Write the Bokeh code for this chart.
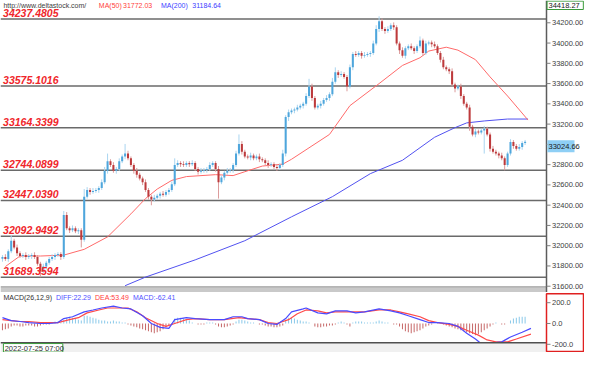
from bokeh.plotting import figure
from bokeh.models import Range1d, Label, ColumnDataSource
from bokeh.layouts import column
from bokeh.core.properties import value
from bokeh.embed import file_html
from bokeh.resources import INLINE

# ---------------- data ----------------
first_open = 31870
closes = [
    31888, 31869, 31945, 32049, 31983, 31926, 31898, 31907, 31888, 31898,
    31907, 31888, 31822, 31746, 31794, 31831, 31869, 31888, 31907, 31917,
    31888, 32304, 32172, 32153, 32172, 32143, 32153, 32058, 32484, 32550,
    32531, 32541, 32550, 32569, 32626, 32739, 32834, 32796, 32739, 32758,
    32834, 32881, 32909, 32862, 32796, 32739, 32701, 32663, 32626, 32550,
    32484, 32455, 32474, 32493, 32512, 32503, 32531, 32550, 32607, 32796,
    32815, 32805, 32796, 32815, 32805, 32815, 32758, 32730, 32739, 32748,
    32758, 32796, 32815, 32758, 32626, 32673, 32720, 32739, 32748, 32796,
    32909, 33004, 32928, 32881, 32871, 32890, 32862, 32881, 32853, 32843,
    32815, 32796, 32805, 32777, 32767, 32796, 32909, 33269, 33316, 33335,
    33344, 33363, 33382, 33401, 33477, 33571, 33458, 33363, 33382, 33401,
    33439, 33458, 33495, 33618, 33713, 33684, 33694, 33666, 33571, 33760,
    33892, 33883, 33902, 33874, 33883, 33892, 33902, 33996, 34138, 34214,
    34138, 34119, 34138, 34176, 34157, 33996, 33930, 33874, 33949, 33968,
    33949, 33921, 33968, 34025, 33902, 33996, 34006, 33987, 33968, 33902,
    33836, 33760, 33741, 33722, 33590, 33552, 33571, 33477, 33401, 33363,
    33174, 33098, 33127, 33117, 33136, 33155, 33098, 32957, 32928, 32909,
    32890, 32862, 32796, 32909, 33023, 32985, 32957, 32975, 33013, 33024.66,
]
upper_wick = [
    19, 28, 19, 57, 19, 28, 19, 19, 28, 19,
    19, 28, 19, 19, 28, 19, 19, 28, 19, 19,
    19, 38, 28, 19, 28, 19, 19, 19, 75, 28,
    19, 28, 19, 19, 28, 38, 75, 19, 28, 19,
    28, 19, 95, 28, 19, 19, 28, 19, 19, 28,
    19, 19, 28, 19, 19, 28, 19, 19, 28, 66,
    28, 19, 28, 19, 19, 28, 19, 19, 28, 19,
    19, 28, 19, 19, 28, 19, 19, 28, 19, 19,
    28, 94, 28, 19, 19, 28, 19, 19, 28, 19,
    19, 28, 19, 19, 28, 19, 38, 19, 28, 19,
    19, 28, 19, 19, 28, 76, 28, 19, 19, 28,
    19, 28, 19, 38, 47, 19, 28, 19, 19, 28,
    19, 28, 19, 19, 28, 19, 19, 28, 38, 50,
    28, 19, 28, 19, 28, 19, 19, 28, 19, 19,
    28, 19, 19, 40, 19, 28, 19, 19, 28, 19,
    19, 28, 19, 19, 28, 19, 19, 28, 19, 19,
    28, 19, 28, 19, 19, 28, 19, 19, 28, 19,
    19, 28, 19, 19, 28, 19, 19, 28, 19, 19,
]
lower_wick = [
    28, 19, 28, 19, 19, 28, 19, 19, 28, 19,
    28, 19, 19, 57, 19, 28, 19, 19, 28, 19,
    28, 19, 19, 28, 19, 19, 28, 75, 19, 19,
    28, 19, 19, 28, 19, 19, 28, 19, 19, 28,
    19, 19, 28, 19, 19, 28, 30, 19, 28, 19,
    28, 56, 19, 19, 28, 19, 19, 28, 19, 19,
    19, 28, 19, 19, 28, 19, 19, 28, 19, 19,
    28, 19, 19, 28, 161, 19, 28, 19, 19, 28,
    19, 19, 28, 19, 19, 28, 19, 19, 28, 19,
    19, 28, 19, 19, 28, 19, 19, 28, 38, 19,
    28, 19, 19, 28, 19, 19, 28, 19, 19, 28,
    19, 19, 28, 19, 19, 28, 19, 19, 47, 19,
    28, 19, 19, 28, 19, 19, 28, 19, 19, 28,
    19, 28, 19, 19, 28, 19, 38, 19, 28, 19,
    19, 28, 19, 19, 28, 19, 19, 28, 19, 19,
    28, 19, 19, 28, 19, 38, 19, 28, 19, 19,
    40, 19, 28, 19, 19, 227, 19, 28, 19, 19,
    28, 19, 52, 19, 19, 28, 19, 19, 28, 19,
]

price_levels = [34237.4805, 33575.1016, 33164.3399, 32744.0899,
                32447.0390, 32092.9492, 31689.3594]
price_level_labels = ["34237.4805", "33575.1016", "33164.3399", "32744.0899",
                      "32447.0390", "32092.9492", "31689.3594"]
price_ticks = [31600, 31800, 32000, 32200, 32400, 32600, 32800,
               33000, 33200, 33400, 33600, 33800, 34000, 34200]
last_price = 33024.66
top_price = 34418.27

ma50_idx = [1, 6, 13, 21, 28, 36, 44, 49, 53, 58, 63, 73, 79, 83, 89, 96,
            99, 106, 112, 119, 129, 137, 143, 146, 152, 156, 162, 167, 173, 180]
ma50_val = [31794, 31898, 31898, 31907, 31964, 32087, 32314, 32465, 32559,
            32645, 32682, 32701, 32692, 32730, 32786, 32805, 32853, 32985,
            33098, 33382, 33600, 33779, 33855, 33921, 33959, 33930, 33836,
            33666, 33477, 33240]
ma200_idx = [42, 49, 66, 83, 99, 113, 126, 137, 148, 155, 159, 165, 173, 180]
ma200_val = [31605, 31690, 31860, 32049, 32285, 32484, 32711, 32843, 33070,
             33165, 33212, 33231, 33250, 33250]

diff_idx = [0, 3, 6, 9, 13, 16, 19, 21, 24, 28, 31, 34, 38, 41, 44, 48, 51,
            54, 57, 59, 63, 66, 71, 76, 79, 82, 84, 88, 91, 94, 97, 99, 103,
            104, 108, 111, 114, 118, 121, 124, 129, 133, 136, 139, 143, 146,
            149, 153, 156, 159, 162, 164, 168, 171, 174, 178, 181]
diff_val = [56, 28, 19, 9, 0, 0, 9, 47, 65, 112, 130, 149, 167, 149, 140, 74,
            0, -37, -47, 37, 56, 47, 37, 37, 65, 65, 47, 37, 0, -9, 47, 112,
            140, 149, 102, 93, 121, 121, 102, 112, 140, 121, 102, 74, 37, 9,
            9, 0, -28, -93, -149, -195, -186, -177, -130, -84, -47]
dea_idx = [0, 3, 6, 9, 13, 16, 19, 23, 26, 29, 33, 36, 39, 43, 46, 49, 53,
           56, 59, 63, 66, 71, 76, 81, 84, 88, 91, 94, 98, 101, 104, 108, 111,
           114, 118, 121, 124, 129, 133, 136, 139, 143, 146, 149, 153, 156,
           159, 163, 166, 169, 173, 176, 181]
dea_val = [37, 28, 19, 19, 9, 9, 9, 37, 56, 102, 130, 149, 149, 149, 112, 56,
           0, -28, 0, 37, 47, 37, 37, 56, 47, 37, 9, 0, 37, 93, 130, 121, 102,
           112, 112, 112, 112, 130, 130, 112, 93, 65, 28, 9, -9, -28, -65,
           -112, -158, -177, -177, -149, -102]
macd_hist = [
    -65, -56, -47, -28,
    -19, -19, -28, -28, -19, -19, -19, -28, -28, -19, -9, -9, -9,
    9, 19, 19, 9,
    37, 56, 65, 56, 47, 37, 28,
    74, 74, 65, 56, 47,
    37, 28, 28, 19, 19,
    28, 19, 19, 9, 9,
    -9, -19, -28, -37, -47,
    -56, -65, -74, -84, -93, -84, -74, -56, -37,
    -19, -9,
    47, 56, 56, 47, 37, 28,
    9, 0, -9, -9, -9,
    9, 9, 9, -9,
    -28, -37, -37, -28, -19, -9,
    19, 37, 37, 28, 19, 9,
    9, 0, -9, -9,
    -19, -28, -28, -37, -37, -28, -19,
    37, 56, 56, 47, 37,
    28, 19, 19, 9, 0,
    -28, -37, -37, -28, -28, -19, -19, -9,
    9, 19, 9, -9, -28,
    9, 19, 19, 19, 9, 9, 9, 9, 19, 28, 19, 9, 9,
    0, -9, -9,
    -28, -56, -74, -84, -93, -84, -74, -65, -47, -28, -19, -9,
    0, 9, 0, -9,
    -19, -28, -37, -47, -56, -65, -74, -84, -93, -102, -112, -102, -84, -65, -47,
    -28, -9, 9, 0,
    -9, -9, 0,
    28, 47, 56, 65, 65, 65,
]
macd_ticks = [-200, 0, 200]

# ---------------- derived table ----------------
opens = [first_open] + closes[:-1]
idx = list(range(len(closes)))
body_top = [max(o, c) for o, c in zip(opens, closes)]
body_bot = [min(o, c) for o, c in zip(opens, closes)]
highs = [t + u for t, u in zip(body_top, upper_wick)]
lows = [b - l for b, l in zip(body_bot, lower_wick)]
up = [c >= o for o, c in zip(opens, closes)]
UP_BODY, UP_WICK = "#4ea6dc", "#a9d5f0"
DN_BODY, DN_WICK = "#bd3a3c", "#dc9b9b"
candles = ColumnDataSource(dict(
    x=idx, top=body_top, bottom=body_bot, high=highs, low=lows,
    body=[UP_BODY if u else DN_BODY for u in up],
    wick=[UP_WICK if u else DN_WICK for u in up],
))
hist_src = ColumnDataSource(dict(
    x=idx, top=macd_hist,
    color=["#8ccaea" if h >= 0 else "#c76a6a" for h in macd_hist],
))

FONT = "Liberation Sans"
W = 584
X0 = -0.67          # left edge of the chart area (candle index units)
XA = 186.33         # where the price scale begins
PX = 546 / (XA - X0)  # pixels per index unit
XE = X0 + W / PX    # right edge of the canvas
TICK = 4 / PX
LBL = XA + 5.5 / PX


def base_fig(h, y0, y1):
    f = figure(width=W, height=h, x_range=Range1d(X0, XE),
               y_range=Range1d(y0, y1), x_axis_location=None,
               y_axis_location=None, toolbar_location=None,
               output_backend="svg", min_border=0)
    f.grid.visible = False
    f.outline_line_color = None
    f.background_fill_color = "white"
    f.border_fill_color = "white"
    return f


def label(fig, x, y, txt, col, size="7.5px", style="normal",
          baseline="middle", yoff=0):
    fig.add_layout(Label(x=x, y=y, text=txt, text_baseline=baseline,
                         text_color=col, text_font=FONT, y_offset=yoff,
                         text_font_size=size, text_font_style=style))


# ---------------- main panel ----------------
Y0, Y1 = 31538, 34420
p1 = base_fig(292, Y0, Y1)
UPP = (Y1 - Y0) / 292   # price units per pixel

p1.segment(x0=[X0] * len(price_levels), x1=[XA] * len(price_levels),
           y0=price_levels, y1=price_levels, line_color="#6a6a6a",
           line_width=1.5)

p1.line(ma200_idx, ma200_val, line_color="#5252f0", line_width=1)
p1.line(ma50_idx, ma50_val, line_color="#ff6a6a", line_width=1)
p1.segment(x0="x", y0="low", x1="x", y1="high", line_color="wick",
           line_width=1, source=candles)
p1.vbar(x="x", width=0.7, top="top", bottom="bottom", fill_color="body",
        line_color=None, source=candles)

# separator band between the panels
p1.quad(left=X0, right=XA, bottom=Y0, top=31594, fill_color="#c9c9c9",
        line_color=None)
p1.segment(x0=[X0], x1=[XA], y0=[31594], y1=[31594], line_color="#9a9a9a",
           line_width=1)

# price scale; the label hidden under the current-price box is left out
p1.quad(left=XA, right=XE, bottom=Y0, top=Y1, fill_color="white",
        line_color=None)
p1.segment(x0=[XA], x1=[XA], y0=[Y0], y1=[Y1], line_color="#5c5c5c",
           line_width=1.5)
p1.segment(x0=[XA] * len(price_ticks), x1=[XA + TICK] * len(price_ticks),
           y0=price_ticks, y1=price_ticks, line_color="#808080", line_width=1)
shown = [t for t in price_ticks if abs(t - last_price) > 12 * UPP]
p1.text(x=[LBL] * len(shown), y=shown,
        text=["%.2f" % t for t in shown], text_baseline="middle",
        text_align="left", text_font=value(FONT),
        text_font_size=value("7.5px"), text_color="#404040")

# current price box (hangs below the price) and top-of-scale box
p1.quad(left=[XA + 0.3], right=[XA + 28 / PX],
        bottom=[last_price - 10.5 * UPP], top=[last_price + 1.5 * UPP],
        fill_color="#8ecff5", line_color=None)
p1.text(x=[XA + 2 / PX], y=[last_price - 4.5 * UPP],
        text=["%.2f" % last_price], text_baseline="middle",
        text_font=value(FONT), text_font_size=value("7.5px"),
        text_color="#202020")
p1.quad(left=[XA + 0.2], right=[XE - 0.4], bottom=[Y1 - 9 * UPP],
        top=[Y1 - 0.6 * UPP], fill_color="white", line_color="#3a9a3a",
        line_width=1)
p1.text(x=[XA + 2 / PX], y=[Y1 - 4.8 * UPP], text=["%.2f" % top_price],
        text_baseline="middle", text_font=value(FONT),
        text_font_size=value("7.5px"), text_color="#202020")

for lvl, txt in zip(price_levels, price_level_labels):
    label(p1, 0.2, lvl, txt, "#f0262b", size="10.5px", style="bold italic",
          baseline="bottom", yoff=2)

hdr_y = 34372
for xx, txt, col in [(0.33, "http://www.deltastock.com/", "#404040"),
                     (33.0, "MA(50)", "#ff4040"),
                     (41.3, "31772.03", "#ff4040"),
                     (54.3, "MA(200)", "#4040ff"),
                     (65.0, "31184.64", "#4040ff")]:
    label(p1, xx, hdr_y, txt, col, size="7px")

# ---------------- MACD panel ----------------
M0, M1 = -279, 298
p2 = base_fig(60, M0, M1)

p2.vbar(x="x", width=0.35, top="top", bottom=0, fill_color="color",
        line_color=None, source=hist_src)
p2.line(dea_idx, dea_val, line_color="#ff4a4a", line_width=1.2)
p2.line(diff_idx, diff_val, line_color="#4a4aff", line_width=1.2)

for xx, txt, col in [(0.33, "MACD(26,12,9)", "#303030"),
                     (18.3, "DIFF:22.29", "#5050ff"),
                     (31.7, "DEA:53.49", "#ff4040"),
                     (44.7, "MACD:-62.41", "#5050ff")]:
    label(p2, xx, 251, txt, col, size="7px")

# bottom time bar
p2.quad(left=X0, right=XA, bottom=M0, top=-186, fill_color="#f0f0f0",
        line_color=None)
p2.segment(x0=[X0], x1=[XA], y0=[-186], y1=[-186], line_color="#505050",
           line_width=1.5)
p2.quad(left=[0.33], right=[20.67], bottom=[M0 + 4], top=[-193],
        fill_color="white", line_color="#3a9a3a", line_width=1)
p2.text(x=[0.75], y=[-236], text=["2022-07-25 07:00"],
        text_baseline="middle", text_font=value(FONT),
        text_font_size=value("7.5px"), text_color="#303030")

# MACD scale with its red frame
p2.quad(left=XA, right=XE, bottom=M0, top=M1, fill_color="white",
        line_color=None)
p2.quad(left=XA, right=XE - 0.35, bottom=M0 + 10, top=M1 - 12,
        fill_alpha=0, line_color="#e02020", line_width=1.5)
p2.segment(x0=[XA] * len(macd_ticks), x1=[XA + TICK] * len(macd_ticks),
           y0=macd_ticks, y1=macd_ticks, line_color="#808080", line_width=1)
p2.text(x=[LBL] * len(macd_ticks), y=macd_ticks,
        text=["%.1f" % t for t in macd_ticks], text_baseline="middle",
        text_align="left", text_font=value(FONT),
        text_font_size=value("7.5px"), text_color="#404040")

layout = column(p1, p2, spacing=0)
open("out.html", "w").write(file_html(layout, INLINE))
